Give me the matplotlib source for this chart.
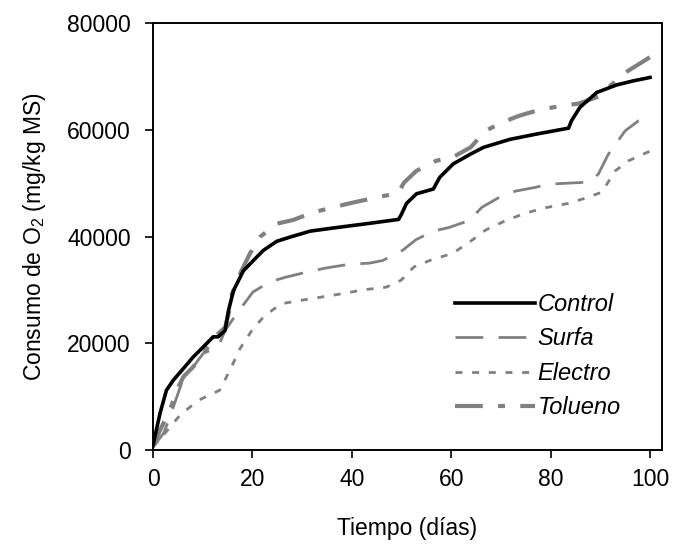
import matplotlib
matplotlib.use("Agg")
import matplotlib.pyplot as plt

plt.rcParams["font.family"] = ["Liberation Sans", "DejaVu Sans"]
plt.rcParams["mathtext.fontset"] = "custom"
plt.rcParams["mathtext.rm"] = "Liberation Sans"
plt.rcParams["lines.scale_dashes"] = False

# Consumo acumulado de O2 (mg/kg MS) frente al tiempo (días)
control_x = [0, 1.4, 2.7, 4.1, 6.1, 8.1, 10.1, 12.1, 13.1, 14.5, 15.2, 16.2, 18.2,
             20.5, 22.2, 24.9, 27.6, 31.6, 36.3, 43.0, 49.4, 50.0, 51.0, 53.0,
             56.4, 57.7, 60.4, 63.8, 66.5, 71.8, 77.2, 83.6, 84.2, 85.9, 89.3,
             93.3, 96.6, 100]
control_y = [900, 6850, 11200, 13100, 15260, 17440, 19300, 21200, 21200, 22400,
             26200, 29900, 33600, 35800, 37400, 39100, 39900, 41000, 41600, 42400,
             43200, 44200, 46200, 48000, 48900, 51100, 53600, 55400, 56700, 58200,
             59200, 60300, 61700, 64200, 67000, 68400, 69150, 69800]

surfa_x = [0, 2.1, 3.4, 4.8, 6.1, 8.1, 10.1, 13.1, 14.5, 16.8, 20.1, 23.5, 26.8,
           30.8, 34.8, 39.5, 43.5, 46.2, 50.2, 52.9, 56.4, 59.6, 63.6, 66.2, 69.6,
           72.9, 76.9, 79.6, 83.6, 87.8, 89.6, 91.6, 95.0, 97.7, 100]
surfa_y = [600, 3100, 6200, 10000, 13400, 15600, 18100, 19300, 22400, 25500,
           29600, 31500, 32400, 33300, 34100, 34800, 35000, 35500, 37400, 39400,
           41000, 41700, 43000, 45500, 47300, 48500, 49200, 49800, 50000, 50200,
           51700, 55400, 59800, 61700, 62300]

electro_x = [0, 2.1, 5.4, 9.1, 13.4, 15.5, 17.5, 20.1, 22.5, 25.8, 29.5, 34.2,
             38.2, 42.2, 46.9, 49.9, 52.5, 56.2, 60.2, 63.6, 66.9, 71.0, 75.0,
             79.0, 83.6, 87.0, 90.3, 93.0, 95.7, 100]
electro_y = [600, 2800, 6500, 9300, 11200, 15000, 19000, 22700, 25200, 27400,
             28000, 28700, 29300, 30000, 30500, 31800, 34300, 35700, 36800, 38900,
             41200, 43000, 44400, 45400, 46200, 47200, 48300, 52300, 54200, 56000]

tolueno_x = [0, 1.4, 3.4, 4.8, 6.1, 8.1, 10.1, 12.8, 14.5, 15.2, 15.8, 17.8, 19.5,
             21.5, 24.9, 28.2, 32.2, 35.5, 39.5, 42.9, 47.5, 49.2, 50.5, 53.0,
             57.0, 60.2, 63.9, 66.9, 70.3, 73.6, 77.6, 82.3, 85.6, 89.6, 91.6,
             95.0, 99.3, 100]
tolueno_y = [600, 3700, 7500, 11200, 13700, 15600, 18100, 21500, 23000, 25500,
             29000, 33600, 36800, 39900, 42400, 43100, 44500, 45300, 46200, 46900,
             47800, 48000, 50100, 52300, 54200, 54800, 56700, 59800, 61400, 62600,
             63700, 64500, 64900, 66200, 67900, 70700, 73200, 73600]

gray = "#808080"
fs = 16.5

fig = plt.figure(figsize=(6.75, 5.45), dpi=100)
ax = fig.add_axes([0.2267, 0.1743, 0.7540, 0.7835])

ax.plot(control_x, control_y, color="black", linewidth=2.6, label="Control", zorder=5)
ax.plot(surfa_x, surfa_y, color=gray, linewidth=2.0, dashes=(20, 11), label="Surfa")
ax.plot(electro_x, electro_y, color=gray, linewidth=2.0, dashes=(5, 7), label="Electro")
ax.plot(tolueno_x, tolueno_y, color=gray, linewidth=3.0, dashes=(20, 11, 5, 11),
        label="Tolueno")

ax.set_xlim(0, 102.4)
ax.set_ylim(0, 80000)
ax.set_xticks([0, 20, 40, 60, 80, 100])
ax.set_yticks([0, 20000, 40000, 60000, 80000])
ax.tick_params(direction="out", length=6, width=1.2, labelsize=fs, color="black")
ax.tick_params(axis="y", pad=10)
ax.tick_params(axis="x", pad=7)
for s in ax.spines.values():
    s.set_linewidth(1.4)

ax.set_xlabel("Tiempo (días)", fontsize=fs, labelpad=19)
ax.set_ylabel(r"Consumo de O$_\mathregular{2}$ (mg/kg MS)", fontsize=fs, labelpad=14)

ax.legend(loc="upper left", bbox_to_anchor=(0.57, 0.395), frameon=False,
          borderpad=0, handlelength=3.4, handletextpad=0.1, labelspacing=0.48,
          prop={"style": "italic", "size": fs + 0.5, "family": "Liberation Sans"})

fig.savefig("out.png", dpi=100)
